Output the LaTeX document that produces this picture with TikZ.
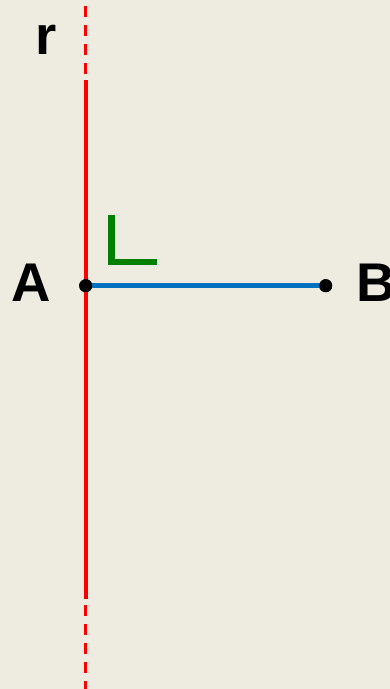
\documentclass[tikz,border=0pt]{standalone}
\usepackage{fontspec}
\setmainfont{Liberation Sans}
\definecolor{paper}{RGB}{238,235,224}
\definecolor{rline}{RGB}{255,0,0}
\definecolor{segblue}{RGB}{0,112,192}
\definecolor{markgreen}{RGB}{0,128,0}
\tikzset{
	dot/.style={circle,fill=black,inner sep=0pt,minimum size=13pt},
	lbl/.style={inner sep=0pt,font=\bfseries\fontsize{54.5}{60}\selectfont},
	rdash/.style={rline,line width=3pt,dash pattern=on 11pt off 8pt}
}
\begin{document}
\begin{tikzpicture}[x=1pt,y=-1pt]
		\fill[paper] (0,0) rectangle (390,689);
		\useasboundingbox (0,0) rectangle (390,689);
		% line r
		\coordinate (rtop) at (85.5,0);
		\coordinate (r1) at (85.5,80);
		\coordinate (r2) at (85.5,599);
		\coordinate (rbot) at (85.5,689);
		\draw[rdash] (85.5,74)--(rtop);
		\draw[rline,line width=4pt] (r1)--(r2);
		\draw[rdash] (85.5,605)--(rbot);
		\node[lbl] (r) at (46.5,40) {r};
		% right angle mark
		\draw[markgreen,line width=6.5pt] (111.5,215)--(111.5,262)--(157,262);
		% segment AB
		\node[dot] (A) at (85.7,285.7) {};
		\node[dot] (B) at (325.7,285.7) {};
		\draw[segblue,line width=5.5pt] (A.center)--(B.center);
		\node[dot] at (A) {};
		\node[dot] at (B) {};
		\node[lbl] (labA) at (31,282.5) {A};
		\node[lbl,anchor=west] (labB) at (356,282.5) {B};
	\end{tikzpicture}
\end{document}
